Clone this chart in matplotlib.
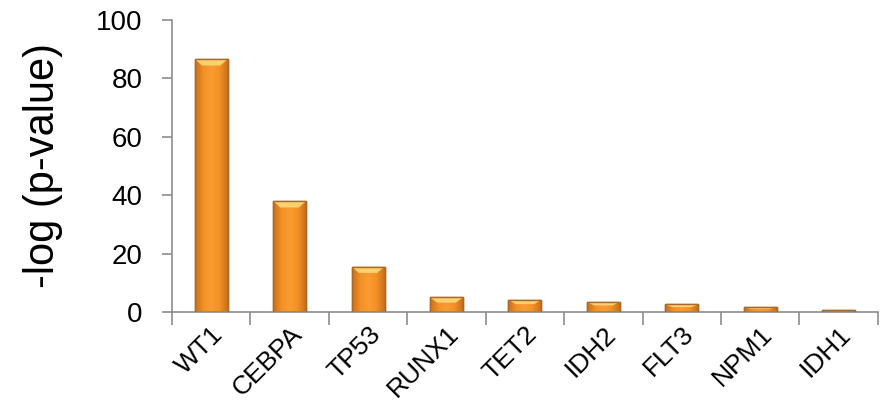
import numpy as np
import matplotlib
matplotlib.use("Agg")
import matplotlib.pyplot as plt
from matplotlib.colors import LinearSegmentedColormap
from matplotlib.patches import Polygon

genes = ["WT1", "CEBPA", "TP53", "RUNX1", "TET2", "IDH2", "FLT3", "NPM1", "IDH1"]
neg_log_p = [86.6, 38.0, 15.6, 5.0, 4.2, 3.5, 2.6, 1.7, 0.6]
y_ticks = [0, 20, 40, 60, 80, 100]

plt.rcParams["font.family"] = ["Liberation Sans", "DejaVu Sans"]

fig = plt.figure(figsize=(8.84, 4.15), dpi=100)
ax = fig.add_axes([0.1946, 0.248, 0.7984, 0.704])

x = np.arange(len(genes))
width = 0.42
bars = ax.bar(x, neg_log_p, width=width, color="#F39022",
              edgecolor="#A86A2C", linewidth=1.0, zorder=2)

# horizontal shading across each bar for a rounded, glossy look
shade = LinearSegmentedColormap.from_list(
    "shade", ["#C96F1A", "#F39126", "#FA9C30", "#F39126", "#C96F1A"])
grad = np.linspace(0, 1, 64).reshape(1, -1)
ax.set_xlim(-0.5, len(genes) - 0.5)
ax.set_ylim(0, 100)
for b in bars:
    x0, w, h = b.get_x(), b.get_width(), b.get_height()
    im = ax.imshow(grad, cmap=shade, aspect="auto", zorder=2.5,
                   extent=[x0, x0 + w, 0, h], interpolation="bicubic")
    im.set_clip_path(b)
    # light bevel on the top edge
    cap = min(2.2, h * 0.35)
    inset = w * 0.22
    ax.add_patch(Polygon([[x0, h], [x0 + w, h], [x0 + w - inset, h - cap],
                          [x0 + inset, h - cap]], closed=True,
                         facecolor="#FFD06E", edgecolor="none", zorder=3))
    ax.add_patch(plt.Rectangle((x0, 0), w, h, fill=False,
                               edgecolor="#A86A2C", linewidth=1.0, zorder=3.5))

ax.set_xlim(-0.5, len(genes) - 0.5)
ax.set_ylim(0, 100)
ax.set_yticks(y_ticks)
ax.set_yticklabels([str(v) for v in y_ticks], fontsize=20)
ax.set_ylabel("-log (p-value)", fontsize=30, labelpad=24)

ax.set_xticks(x)
ax.set_xticklabels(genes, rotation=45, ha="right", rotation_mode="anchor",
                   fontsize=19)
ax.tick_params(axis="x", length=0, pad=7)
ax.set_xticks(np.arange(len(genes) + 1) - 0.5, minor=True)
ax.tick_params(axis="x", which="minor", length=9, width=1.2, color="#8C8C8C",
               direction="out")
ax.tick_params(axis="y", length=7, width=1.2, color="#8C8C8C", direction="out",
               pad=14)

for side in ["top", "right"]:
    ax.spines[side].set_visible(False)
for side in ["left", "bottom"]:
    ax.spines[side].set_color("#8C8C8C")
    ax.spines[side].set_linewidth(1.2)

fig.savefig("out.png", dpi=100)
